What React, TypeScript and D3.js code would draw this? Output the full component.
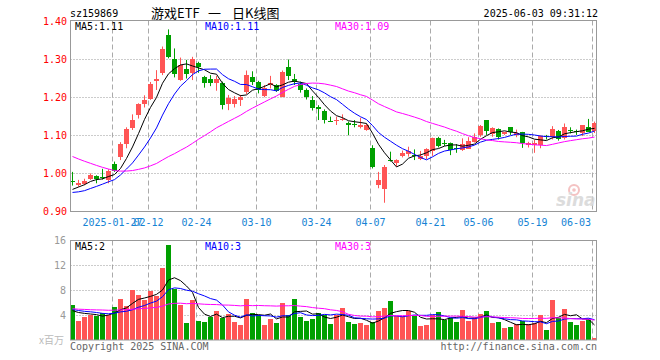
import React from 'react';
import * as d3 from 'd3';

// ---- data ----
const dates = [
  '2025-01-16','2025-01-17','2025-01-20','2025-01-21','2025-01-22','2025-01-23','2025-01-24','2025-01-27',
  '2025-02-05','2025-02-06','2025-02-07','2025-02-10','2025-02-11','2025-02-12','2025-02-13','2025-02-14',
  '2025-02-17','2025-02-18','2025-02-19','2025-02-20','2025-02-21','2025-02-24','2025-02-25','2025-02-26',
  '2025-02-27','2025-02-28','2025-03-03','2025-03-04','2025-03-05','2025-03-06','2025-03-07','2025-03-10',
  '2025-03-11','2025-03-12','2025-03-13','2025-03-14','2025-03-17','2025-03-18','2025-03-19','2025-03-20',
  '2025-03-21','2025-03-24','2025-03-25','2025-03-26','2025-03-27','2025-03-28','2025-03-31','2025-04-01',
  '2025-04-02','2025-04-03','2025-04-07','2025-04-08','2025-04-09','2025-04-10','2025-04-11','2025-04-14',
  '2025-04-15','2025-04-16','2025-04-17','2025-04-18','2025-04-21','2025-04-22','2025-04-23','2025-04-24',
  '2025-04-25','2025-04-28','2025-04-29','2025-04-30','2025-05-06','2025-05-07','2025-05-08','2025-05-09',
  '2025-05-12','2025-05-13','2025-05-14','2025-05-15','2025-05-16','2025-05-19','2025-05-20','2025-05-21',
  '2025-05-22','2025-05-23','2025-05-26','2025-05-27','2025-05-28','2025-05-29','2025-05-30','2025-06-03',
];

const open = [
  0.981,0.970,0.974,0.986,0.992,0.990,0.983,1.025,1.044,1.077,
  1.119,1.154,1.182,1.196,1.243,1.263,1.363,1.299,1.245,1.274,
  1.263,1.291,1.252,1.249,1.238,1.238,1.182,1.182,1.193,1.214,
  1.254,1.240,1.201,1.231,1.232,1.201,1.278,1.247,1.234,1.219,
  1.193,1.173,1.165,1.138,1.139,1.142,1.132,1.130,1.123,1.114,
  1.066,0.971,0.961,1.034,1.026,1.044,1.053,1.049,1.039,1.046,
  1.061,1.094,1.081,1.079,1.066,1.060,1.066,1.083,1.100,1.140,
  1.103,1.116,1.103,1.121,1.101,1.108,1.074,1.074,1.074,1.097,
  1.095,1.111,1.092,1.114,1.110,1.105,1.123,1.109,
];
const high = [
  1.004,0.983,0.986,1.000,0.995,1.012,1.011,1.031,1.082,1.121,
  1.155,1.184,1.205,1.240,1.271,1.333,1.378,1.328,1.304,1.298,
  1.306,1.293,1.256,1.258,1.256,1.241,1.206,1.203,1.206,1.270,
  1.268,1.243,1.232,1.256,1.234,1.270,1.299,1.261,1.241,1.223,
  1.203,1.179,1.168,1.149,1.149,1.155,1.136,1.140,1.146,1.130,
  1.074,1.004,1.022,1.057,1.037,1.060,1.070,1.063,1.059,1.066,
  1.094,1.096,1.088,1.081,1.077,1.092,1.095,1.105,1.127,1.140,
  1.121,1.118,1.109,1.121,1.115,1.109,1.083,1.088,1.100,1.101,
  1.124,1.114,1.131,1.121,1.115,1.127,1.143,1.136,
];
const low = [
  0.968,0.965,0.969,0.983,0.974,0.984,0.974,1.004,1.035,1.066,
  1.114,1.144,1.173,1.193,1.219,1.258,1.302,1.252,1.243,1.249,
  1.245,1.264,1.225,1.229,1.217,1.168,1.166,1.173,1.177,1.208,
  1.232,1.210,1.200,1.223,1.214,1.200,1.245,1.232,1.212,1.194,
  1.165,1.140,1.131,1.136,1.127,1.138,1.100,1.121,1.118,1.112,
  1.013,0.961,0.923,1.031,1.018,1.042,1.044,1.035,1.035,1.037,
  1.046,1.068,1.072,1.048,1.054,1.059,1.066,1.081,1.096,1.101,
  1.096,1.089,1.101,1.101,1.095,1.067,1.068,1.054,1.066,1.089,
  1.089,1.086,1.089,1.105,1.101,1.098,1.109,1.106,
];
const close = [
  0.980,0.976,0.981,0.997,0.985,0.989,1.007,1.007,1.077,1.116,
  1.140,1.182,1.193,1.235,1.247,1.326,1.306,1.260,1.284,1.261,
  1.299,1.280,1.236,1.239,1.248,1.179,1.198,1.194,1.201,1.258,
  1.241,1.219,1.223,1.236,1.217,1.267,1.254,1.238,1.219,1.201,
  1.171,1.168,1.142,1.137,1.140,1.144,1.128,1.129,1.127,1.127,
  1.016,0.983,1.018,1.033,1.035,1.053,1.060,1.048,1.046,1.064,
  1.094,1.074,1.080,1.061,1.065,1.077,1.086,1.096,1.124,1.112,
  1.118,1.096,1.109,1.107,1.105,1.079,1.079,1.079,1.098,1.096,
  1.116,1.089,1.121,1.113,1.109,1.127,1.111,1.131,
];
// volume, millions of shares
const volume = [
  5.6,3.1,3.7,4.0,3.9,4.4,4.0,5.3,6.6,5.4,
  8.0,7.2,6.4,7.9,7.0,11.5,15.2,8.2,5.6,2.7,
  6.4,3.1,2.9,3.7,4.6,3.6,4.2,2.9,2.4,6.6,
  4.4,4.0,2.4,3.4,2.7,5.9,4.0,6.6,3.7,3.0,
  3.4,4.3,4.0,2.5,4.0,5.2,2.9,2.6,2.7,2.4,
  2.9,4.6,5.2,6.2,3.8,3.8,4.6,3.8,2.2,2.4,
  4.0,4.5,3.2,3.5,2.9,4.8,3.0,3.5,4.2,4.6,
  2.7,2.9,1.9,2.1,2.6,3.0,2.6,2.7,4.0,1.6,
  6.4,3.5,5.0,2.9,2.4,3.0,3.4,0.3,
];

// estimated history before the window, so the averages start where the reference's do
const priorCloses = [
  1.17,1.16,1.16,1.15,1.14,1.14,1.13,
  1.12,1.11,1.10,1.09,1.08,1.07,1.06,1.05,1.04,1.03,1.02,1.01,1.00,
  0.96,0.95,0.94,0.93,0.93,
  0.945,0.950,0.955,0.960,
];
const priorVolumes = [
  5.2,4.8,5.5,4.6,5.0,5.3,4.9,5.1,4.7,5.4,5.0,5.2,4.8,5.1,4.9,5.3,5.0,4.9,5.2,5.1,
  4.9,5.0,4.8,5.0,5.8,
  4.6,4.4,4.5,4.4,
];

const tickDates = ['2025-01-27','2025-02-12','2025-02-24','2025-03-10','2025-03-24','2025-04-07','2025-04-21','2025-05-06','2025-05-19','2025-06-03'];
const tickLabels = ['2025-01-27','02-12','02-24','03-10','03-24','04-07','04-21','05-06','05-19','06-03'];
const priceTicks = [1.4, 1.3, 1.2, 1.1, 1.0, 0.9];
const volumeTicks = [16, 12, 8, 4];
const maPeriods = [5, 10, 30];
const priceLegend = ['MA5:1.11', 'MA10:1.11', 'MA30:1.09'];
const volumeLegend = ['MA5:2', 'MA10:3', 'MA30:3'];
const titleParts = ['游戏ETF', '一', '日K线图'];

// ---- styles ----
const W = 660, H = 360;
const L = 70.5, R = 596.5;
const mainTop = 20.5, mainBottom = 211.5;
const volTop = 240.5, volBottom = 340;
const RED = '#ff5555', GREEN = '#00a000';
const maColors = ['#000000', '#0000ff', '#ff00ff'];
const legendX = [75, 205, 335];
const titleX = [151, 208, 232];
const MONO = "'DejaVu Sans Mono', 'Liberation Mono', monospace";
const CJK = "'Noto Sans CJK SC', sans-serif";
const AXIS_BLUE = '#1583d4';

function movingAverage(series: number[], prior: number[], n: number): number[] {
  const all = prior.concat(series);
  const off = prior.length;
  return series.map((_, i) => d3.mean(all.slice(off + i - n + 1, off + i + 1)) as number);
}

export default function App() {
  const x = d3.scaleBand<string>().domain(dates).range([69.3, 597.3]).padding(0);
  const cx = (i: number) => Math.floor((x(dates[i]) as number) + x.bandwidth() / 2) + 0.5;
  const py = d3.scaleLinear().domain([0.9, 1.4]).range([211.5, 21]);
  const vy = d3.scaleLinear().domain([0, 16]).range([volBottom, 240]);

  const priceMA = maPeriods.map((n) => movingAverage(close, priorCloses, n));
  const volMA = maPeriods.map((n) => movingAverage(volume, priorVolumes, n));

  const priceLine = d3.line<number>().x((_, i) => cx(i)).y((d) => py(d));
  const volLine = d3.line<number>().x((_, i) => cx(i)).y((d) => vy(d));

  const gridX = tickDates.map((d) => cx(dates.indexOf(d)) - 2);

  return (
    <svg width={W} height={H} style={{ position: 'absolute', left: 0, top: 0, background: '#fff' }}>
      <defs>
        <clipPath id="mainClip"><rect x={L} y={mainTop} width={R - L} height={mainBottom - mainTop} /></clipPath>
        <clipPath id="volClip"><rect x={L} y={volTop} width={R - L} height={volBottom - volTop} /></clipPath>
      </defs>

      {/* header */}
      <text x={70} y={17} fontFamily={MONO} fontSize={10} fill="#000">sz159869</text>
      {titleParts.map((t, k) => (
        <text key={t} x={titleX[k]} y={18} fontFamily={CJK} fontSize={13} fill="#000">{t}</text>
      ))}
      <text x={598} y={17} fontFamily={MONO} fontSize={10} fill="#000" textAnchor="end">2025-06-03 09:31:12</text>

      {/* main grid */}
      {priceTicks.filter((t) => t < 1.4 && t > 0.9).map((t) => (
        <line key={t} x1={L} x2={R} y1={Math.floor(py(t)) + 0.5} y2={Math.floor(py(t)) + 0.5}
          stroke="#999" strokeDasharray="1,2" />
      ))}
      {gridX.map((gx, k) => (
        <g key={k}>
          <line x1={gx} x2={gx} y1={mainTop} y2={mainBottom} stroke="#aaa" strokeDasharray="5,3" />
          <line x1={gx} x2={gx} y1={volTop} y2={volBottom} stroke="#aaa" strokeDasharray="5,3" />
        </g>
      ))}
      {/* volume grid */}
      {volumeTicks.filter((t) => t < 16).map((t) => (
        <line key={t} x1={L} x2={R} y1={Math.floor(vy(t)) + 0.5} y2={Math.floor(vy(t)) + 0.5}
          stroke="#999" strokeDasharray="1,2" />
      ))}

      {/* watermark */}
      <g opacity={0.8}>
        <circle cx={574} cy={190} r={5} fill="none" stroke="#f2b3b3" strokeWidth={2} />
        <circle cx={574} cy={190} r={1.8} fill="#f2b3b3" />
        <text x={556} y={206} fontFamily="'DejaVu Sans', sans-serif" fontSize={17} fontStyle="italic" fontWeight="bold" fill="#d4d4d4">sina</text>
      </g>

      {/* candles */}
      <g clipPath="url(#mainClip)">
        {dates.map((d, i) => {
          const o = open[i], c = close[i];
          const col = c >= o ? RED : GREEN;
          const top = py(Math.max(o, c));
          const h = Math.max(1, Math.abs(py(o) - py(c)));
          return (
            <g key={d}>
              <line x1={cx(i)} x2={cx(i)} y1={py(high[i])} y2={py(low[i])} stroke={col} />
              <rect x={cx(i) - 2.5} y={Math.round(top)} width={5} height={Math.max(1, Math.round(h))} fill={col} shapeRendering="crispEdges" />
            </g>
          );
        })}
        {priceMA.map((ma, k) => (
          <path key={k} d={priceLine(ma) || ''} fill="none" stroke={maColors[k]} strokeWidth={1} />
        ))}
      </g>

      {/* volume */}
      <g clipPath="url(#volClip)">
        {dates.map((d, i) => (
          <rect key={d} x={cx(i) - 2.5} y={Math.round(vy(volume[i]))} width={5}
            height={volBottom - Math.round(vy(volume[i]))}
            fill={close[i] >= open[i] ? RED : GREEN} shapeRendering="crispEdges" />
        ))}
        {volMA.map((ma, k) => (
          <path key={k} d={volLine(ma) || ''} fill="none" stroke={maColors[k]} strokeWidth={1} />
        ))}
      </g>

      {/* frames */}
      <rect x={L} y={mainTop} width={R - L} height={mainBottom - mainTop} fill="none" stroke="#999" />
      <rect x={L} y={volTop} width={R - L} height={volBottom - volTop} fill="none" stroke="#999" />

      {/* price axis labels */}
      {priceTicks.map((t) => (
        <text key={t} x={67} y={py(t) + 3.5} fontFamily={MONO} fontSize={10} fill="#ff0000" textAnchor="end">
          {t.toFixed(2)}
        </text>
      ))}
      {/* volume axis labels */}
      {volumeTicks.map((t) => (
        <text key={t} x={66} y={vy(t) + 3.5} fontFamily={MONO} fontSize={10} fill="#999" textAnchor="end">{t}</text>
      ))}
      <text x={39} y={344} fontFamily={CJK} fontSize={10} fill="#bbb">x百万</text>

      {/* date labels */}
      {tickLabels.map((lab, k) => {
        const w = lab.length * 6.02;
        const c = Math.min(gridX[k], 591 - w / 2);
        return (
          <text key={lab} x={c} y={225.5} fontFamily={MONO} fontSize={10} fill={AXIS_BLUE} textAnchor="middle">{lab}</text>
        );
      })}

      {/* legends */}
      {priceLegend.map((t, k) => (
        <text key={t} x={legendX[k]} y={30} fontFamily={MONO} fontSize={10} fill={maColors[k]}>{t}</text>
      ))}
      {volumeLegend.map((t, k) => (
        <text key={t} x={legendX[k]} y={250} fontFamily={MONO} fontSize={10} fill={maColors[k]}>{t}</text>
      ))}

      {/* footer */}
      <text x={70} y={349.5} fontFamily={MONO} fontSize={10} fill="#666">Copyright 2025 SINA.COM</text>
      <text x={597} y={349.5} fontFamily={MONO} fontSize={10} fill="#666" textAnchor="end">http://finance.sina.com.cn</text>
    </svg>
  );
}
